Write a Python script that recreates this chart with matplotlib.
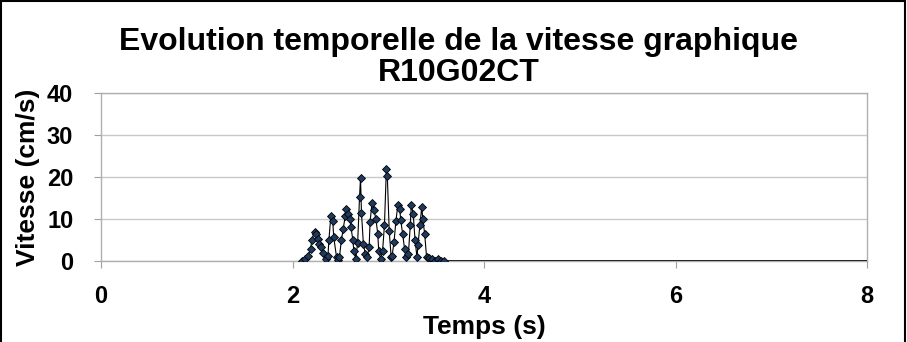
import matplotlib.pyplot as plt
from matplotlib.patches import Rectangle

# donnees
temps = [2.10, 2.13, 2.16, 2.19, 2.20, 2.23, 2.25, 2.27, 2.28, 2.30, 2.32, 2.35,
         2.37, 2.38, 2.40, 2.42, 2.43, 2.46, 2.47, 2.49, 2.51, 2.53, 2.55, 2.56,
         2.58, 2.60, 2.61, 2.63, 2.64, 2.66, 2.68, 2.70, 2.71, 2.72, 2.74, 2.76,
         2.78, 2.80, 2.81, 2.83, 2.85, 2.87, 2.89, 2.90, 2.92, 2.94, 2.96, 2.98,
         2.99, 3.01, 3.03, 3.04, 3.06, 3.08, 3.10, 3.12, 3.13, 3.15, 3.17, 3.19,
         3.21, 3.23, 3.24, 3.26, 3.28, 3.30, 3.31, 3.33, 3.35, 3.36, 3.38, 3.40,
         3.43, 3.46, 3.49, 3.52, 3.55, 3.58]
vitesse = [0.0, 0.5, 1.3, 2.9, 5.0, 7.0, 6.5, 5.3, 4.0, 3.3, 1.8, 0.5,
           1.3, 5.0, 10.7, 9.6, 5.7, 0.9, 0.2, 0.9, 5.0, 7.7, 10.7, 12.3,
           11.3, 10.1, 8.1, 5.0, 2.5, 0.5, 4.3, 15.3, 19.8, 11.5, 4.1, 1.7,
           0.9, 3.3, 9.3, 13.9, 12.1, 10.1, 6.5, 2.5, 0.5, 2.3, 8.5, 21.9,
           20.2, 7.1, 1.0, 1.3, 4.5, 9.6, 13.3, 12.3, 9.7, 6.5, 2.9, 0.9,
           1.7, 8.5, 13.3, 11.3, 4.9, 0.9, 3.7, 8.5, 12.9, 10.1, 6.5, 1.0,
           0.6, 0.5, 0.1, 0.4, 0.1, 0.0]
# fin de l'enregistrement (vitesse nulle)
temps_fin = [3.58, 8.0]
vitesse_fin = [0.0, 0.0]

xticks = [0, 2, 4, 6, 8]
yticks = [0, 10, 20, 30, 40]

plt.rcParams['font.family'] = ['Liberation Sans', 'DejaVu Sans']

fig = plt.figure(figsize=(9.07, 3.42), dpi=100)
ax = fig.add_axes([0.1114, 0.2368, 0.8445, 0.4912])

ax.plot(temps_fin, vitesse_fin, color='black', linewidth=1.2, zorder=3)
ax.plot(temps, vitesse, color='black', linewidth=0.8, marker='D', markersize=4,
        markerfacecolor='#1f3a5f', markeredgecolor='black', markeredgewidth=0.6, zorder=4)

ax.set_xlim(0, 8)
ax.set_ylim(0, 40)
ax.set_xticks(xticks)
ax.set_yticks(yticks)
ax.tick_params(axis='x', length=5, color='#a0a0a0', labelsize=17, pad=12)
ax.tick_params(axis='y', length=5, color='#a0a0a0', labelsize=17, pad=15)
for lab in ax.get_xticklabels() + ax.get_yticklabels():
    lab.set_fontweight('bold')
ax.grid(axis='y', color='#c8c8c8', linewidth=1)
ax.set_axisbelow(True)
for s in ax.spines.values():
    s.set_color('#b0b0b0')
    s.set_linewidth(1)

ax.set_xlabel('Temps (s)', fontsize=19, fontweight='bold')
ax.set_ylabel('Vitesse (cm/s)', fontsize=19, fontweight='bold')
ax.xaxis.set_label_coords(0.5, -0.393)
ax.yaxis.set_label_coords(-0.095, 0.5)
ax.xaxis.label.set_va('center')
ax.yaxis.label.set_va('center')

fig.text(0.506, 1 - 42 / 342, 'Evolution temporelle de la vitesse graphique',
         ha='center', va='center', fontsize=23, fontweight='bold')
fig.text(0.506, 1 - 73 / 342, 'R10G02CT',
         ha='center', va='center', fontsize=23, fontweight='bold')

fig.patches.append(Rectangle((0.0015, -0.1), 0.996, 1.096, transform=fig.transFigure,
                             fill=False, edgecolor='black', linewidth=1.5))

fig.savefig('out.png', dpi=100)
